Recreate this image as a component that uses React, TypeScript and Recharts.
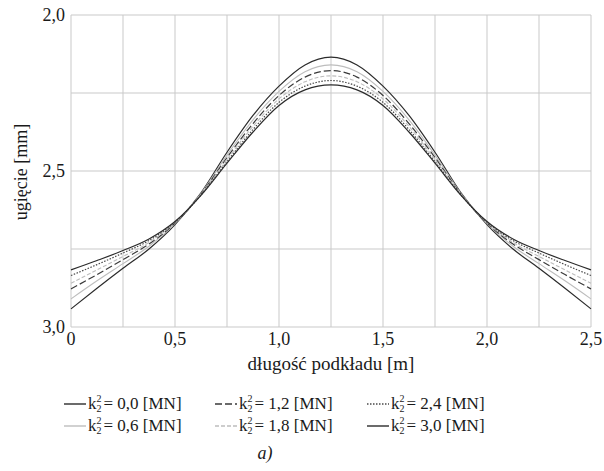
import React from "react";
import { CartesianGrid, Line, LineChart, XAxis, YAxis } from "recharts";

const xs = [0, 0.125, 0.25, 0.375, 0.5, 0.625, 0.75, 0.875, 1.0, 1.125, 1.25, 1.375, 1.5, 1.625, 1.75, 1.875, 2.0, 2.125, 2.25, 2.375, 2.5];

const k00 = [2.942, 2.876, 2.812, 2.75, 2.672, 2.57, 2.44, 2.322, 2.228, 2.16, 2.135, 2.16, 2.228, 2.322, 2.44, 2.57, 2.672, 2.75, 2.812, 2.876, 2.942];
const k06 = [2.91, 2.852, 2.797, 2.741, 2.669, 2.572, 2.449, 2.336, 2.245, 2.182, 2.16, 2.182, 2.245, 2.336, 2.449, 2.572, 2.669, 2.741, 2.797, 2.852, 2.91];
const k12 = [2.878, 2.832, 2.784, 2.734, 2.667, 2.574, 2.457, 2.348, 2.258, 2.199, 2.178, 2.199, 2.258, 2.348, 2.457, 2.574, 2.667, 2.734, 2.784, 2.832, 2.878];
const k18 = [2.86, 2.817, 2.774, 2.729, 2.665, 2.575, 2.463, 2.357, 2.269, 2.214, 2.195, 2.214, 2.269, 2.357, 2.463, 2.575, 2.665, 2.729, 2.774, 2.817, 2.86];
const k24 = [2.835, 2.8, 2.763, 2.723, 2.664, 2.577, 2.47, 2.367, 2.28, 2.228, 2.21, 2.228, 2.28, 2.367, 2.47, 2.577, 2.664, 2.723, 2.763, 2.8, 2.835];
const k30 = [2.817, 2.787, 2.755, 2.718, 2.662, 2.578, 2.475, 2.375, 2.29, 2.24, 2.224, 2.24, 2.29, 2.375, 2.475, 2.578, 2.662, 2.718, 2.755, 2.787, 2.817];

const xTicks = [0, 0.25, 0.5, 0.75, 1, 1.25, 1.5, 1.75, 2, 2.25, 2.5];
const xTickLabels = ["0", "", "0,5", "", "1,0", "", "1,5", "", "2,0", "", "2,5"];
const yTicks = [2, 2.25, 2.5, 2.75, 3];
const yTickLabels = ["2,0", "", "2,5", "", "3,0"];

const kLabels = ["0,0", "0,6", "1,2", "1,8", "2,4", "3,0"];

const series = [
  { key: "k00", label: kLabels[0], color: "#2b2b2b", dash: undefined, width: 1.2 },
  { key: "k06", label: kLabels[1], color: "#bdbdbd", dash: undefined, width: 1.1 },
  { key: "k12", label: kLabels[2], color: "#3a3a3a", dash: "7 3", width: 1.2 },
  { key: "k18", label: kLabels[3], color: "#bdbdbd", dash: "4 2", width: 1.1 },
  { key: "k24", label: kLabels[4], color: "#4a4a4a", dash: "1.5 1.5", width: 1.2 },
  { key: "k30", label: kLabels[5], color: "#2b2b2b", dash: undefined, width: 1.2 },
];

const data = xs.map((x, i) => ({
  x,
  k00: k00[i],
  k06: k06[i],
  k12: k12[i],
  k18: k18[i],
  k24: k24[i],
  k30: k30[i],
}));

const font = "'Liberation Serif', 'Times New Roman', 'DejaVu Serif', serif";

function KLegend() {
  const order = [0, 2, 4, 1, 3, 5];
  return (
    <div
      style={{
        position: "absolute",
        left: 63,
        top: 393,
        display: "grid",
        gridTemplateColumns: "151px 152px 150px",
        rowGap: 1,
        fontFamily: font,
        fontSize: 17,
        color: "#1a1a1a",
      }}
    >
      {order.map((i) => {
        const s = series[i];
        return (
          <div key={s.key} style={{ display: "flex", alignItems: "center", height: 21 }}>
            <svg width={24} height={10} style={{ marginRight: 1 }}>
              <line x1={1} y1={5} x2={23} y2={5} stroke={s.color} strokeWidth={1.4} strokeDasharray={s.dash} />
            </svg>
            <span>k</span>
            <span
              style={{
                display: "inline-flex",
                flexDirection: "column",
                fontSize: 10,
                lineHeight: "10px",
                marginTop: 1,
                marginRight: 2,
              }}
            >
              <span>2</span>
              <span>2</span>
            </span>
            <span>= {s.label} [MN]</span>
          </div>
        );
      })}
    </div>
  );
}

const YLabel = () => (
  <text
    x={23}
    y={172}
    transform="rotate(-90 23 172)"
    textAnchor="middle"
    dominantBaseline="middle"
    fontFamily={font}
    fontSize={18}
    fill="#1a1a1a"
  >
    ugięcie [mm]
  </text>
);

export default function App() {
  return (
    <div style={{ position: "absolute", left: 0, top: 0, width: 604, height: 471, background: "#fff" }}>
      <LineChart width={604} height={471} data={data} margin={{ top: 15, right: 13, bottom: 0, left: 0 }}>
        <CartesianGrid stroke="#c9c9c9" strokeWidth={1} />
        <XAxis
          dataKey="x"
          type="number"
          domain={[0, 2.5]}
          ticks={xTicks}
          tickFormatter={(_v: number, i: number) => xTickLabels[i]}
          axisLine={false}
          tickLine={false}
          tickSize={0}
          tickMargin={5}
          height={144}
          interval={0}
          tick={{ fontFamily: font, fontSize: 18, fill: "#1a1a1a" }}
          label={{ value: "długość podkładu [m]", position: "insideTop", offset: 30, fontFamily: font, fontSize: 19, fill: "#1a1a1a" }}
        />
        <YAxis
          type="number"
          domain={[2, 3]}
          reversed
          ticks={yTicks}
          tickFormatter={(_v: number, i: number) => yTickLabels[i]}
          axisLine={false}
          tickLine={false}
          tickSize={0}
          tickMargin={6}
          width={71}
          interval={0}
          tick={{ fontFamily: font, fontSize: 18, fill: "#1a1a1a" }}
          label={<YLabel />}
        />
        {series.map((s) => (
          <Line
            key={s.key}
            type="monotone"
            dataKey={s.key}
            stroke={s.color}
            strokeWidth={s.width}
            strokeDasharray={s.dash}
            dot={false}
            isAnimationActive={false}
          />
        ))}
      </LineChart>
      <KLegend />
      <div
        style={{
          position: "absolute",
          left: 0,
          width: 530,
          top: 443,
          textAlign: "center",
          fontFamily: font,
          fontStyle: "italic",
          fontSize: 18,
          color: "#1a1a1a",
        }}
      >
        a)
      </div>
    </div>
  );
}
